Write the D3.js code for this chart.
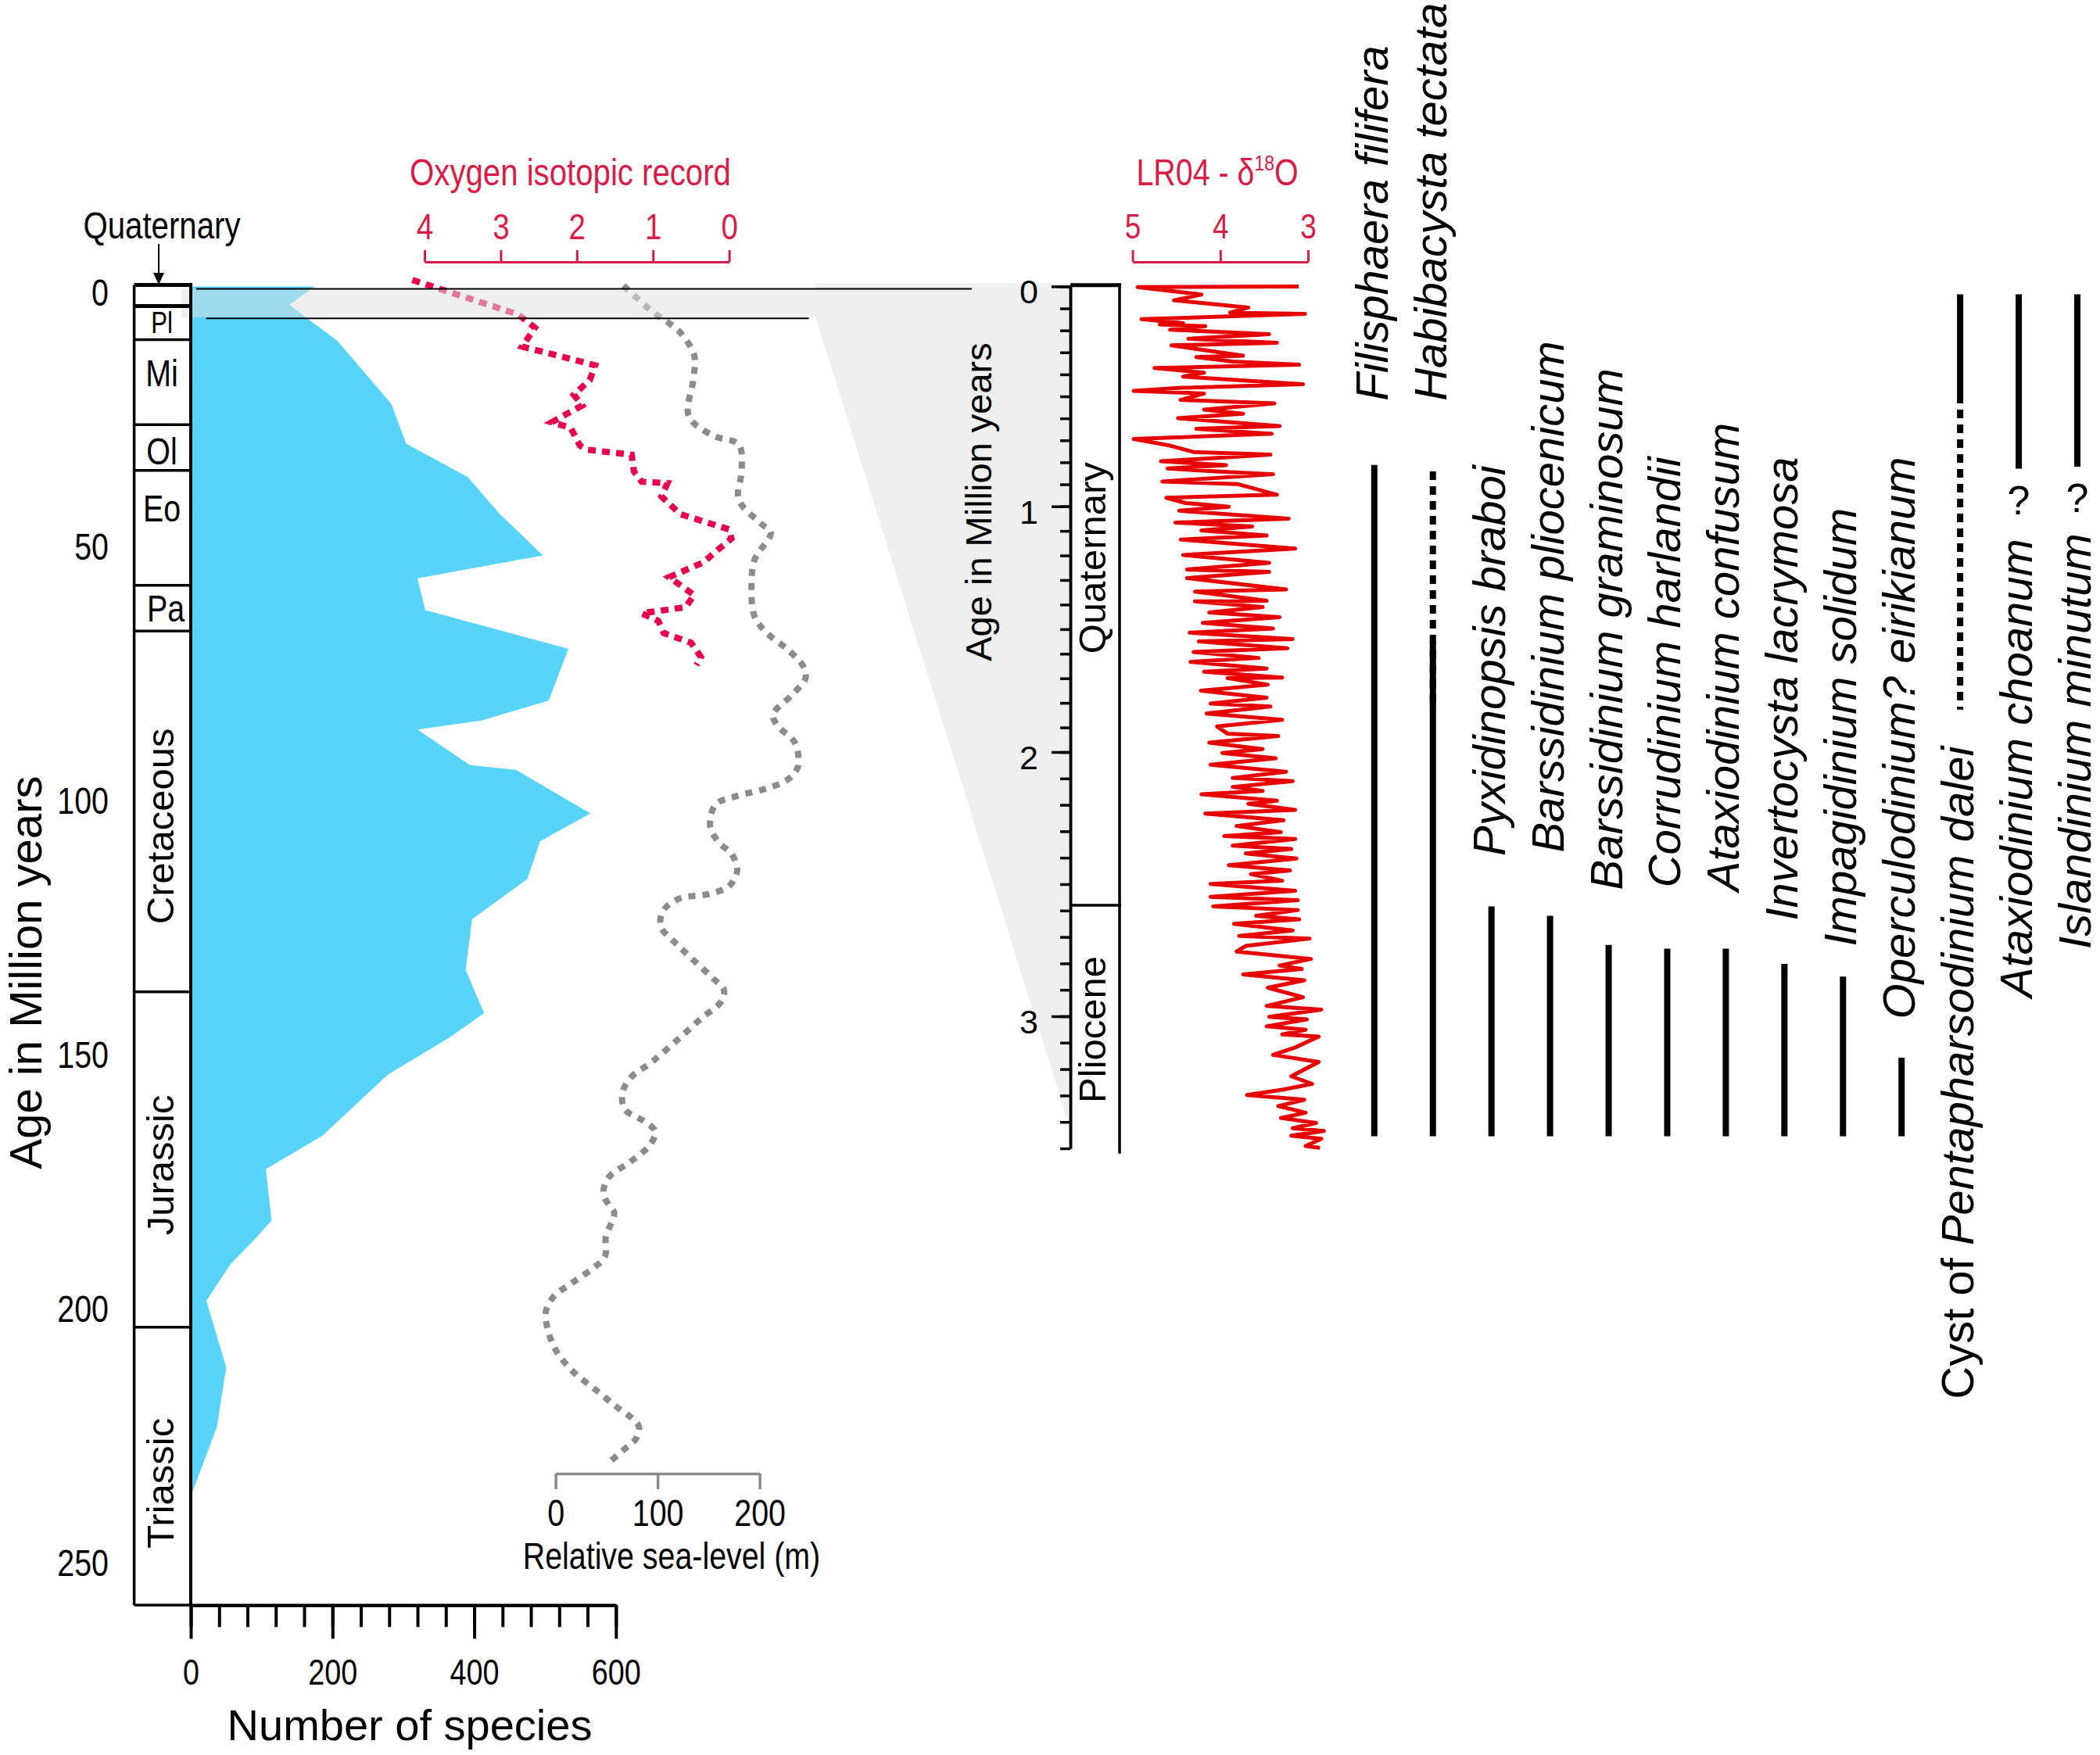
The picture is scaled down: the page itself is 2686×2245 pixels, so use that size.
<!DOCTYPE html>
<html>
<head>
<meta charset="utf-8">
<script src="https://cdn.jsdelivr.net/npm/d3@7"></script>
<style>
  body { margin: 0; background: #fff; }
  svg { display: block; background: #fff; }
  svg text { font-family: "Liberation Sans", Arial, Helvetica, sans-serif; }
</style>
</head>
<body>
<svg id="chart" width="2686" height="2245"></svg>
<script>
// ---------- DATA ----------

// left stratigraphic column (Ma)
const eraNames = ["", "Pl", "Mi", "Ol", "Eo", "Pa", "Cretaceous", "Jurassic", "Triassic"];
const eraBounds = [-1.6, 2.55, 9.15, 25.9, 34.9, 57.5, 66.5, 137.5, 203.5, 258.2];
const eraLabelAge = [null, 5.8, 15.7, 31.0, 42.3, 62.0, 104.9, 171.6, 234.2];
const ageTicks = [0, 50, 100, 150, 200, 250];

// number of species [age Ma, count]
const speciesCount = [
  [-1.3, 175], [2.3, 139], [9.4, 207], [21.8, 283], [29.6, 304], [36.2, 391], [43.3, 435],
  [51.6, 497], [56.1, 320], [62.4, 331], [70.0, 533], [80.2, 505], [84.1, 410], [85.9, 320],
  [92.9, 394], [93.8, 459], [102.4, 564], [107.9, 493], [115.3, 475], [123.2, 397], [133.2, 388],
  [141.7, 414], [146.5, 365], [153.8, 278], [165.8, 186], [172.4, 106], [182.5, 114], [185.8, 93],
  [191.1, 56], [198.3, 22], [211.4, 50], [223.1, 37], [236.8, 0]
];
const speciesTicks = [0, 200, 400, 600];

// oxygen isotopic record [age Ma, permil]
const oxygenRecord = [
  [-2.6, 4.16], [4.2, 2.77], [6.8, 2.55], [10.5, 2.72], [14.2, 1.76], [17.1, 1.83], [20.0, 2.04],
  [22.1, 1.93], [25.4, 2.33], [26.5, 2.08], [30.0, 1.96], [30.8, 1.87], [31.8, 1.28], [35.1, 1.25],
  [37.1, 1.15], [37.4, 0.81], [40.0, 0.89], [43.5, 0.64], [46.5, 0.0], [48.3, -0.03], [50.4, 0.14],
  [53.0, 0.34], [55.9, 0.79], [59.4, 0.46], [61.8, 0.57], [63.0, 1.15], [64.5, 0.93], [66.9, 0.86],
  [68.8, 0.5], [71.6, 0.37], [73.2, 0.43]
];
const oxygenTicks = [4, 3, 2, 1, 0];

// relative sea level [age Ma, m]
const seaLevel = [
  [-1.5, 66.5], [3.5, 94], [7.7, 122], [12.4, 136], [17, 135], [24.2, 130.5], [28, 154], [29.8, 179.5],
  [34.8, 182.5], [40.6, 179.5], [45.4, 201.7], [47.1, 211], [52.5, 195], [57.8, 192], [63.3, 194.5],
  [66.5, 205], [70.4, 229], [73.5, 243], [75.8, 245], [79, 232], [83, 213], [85.3, 218.5], [88.5, 234.6],
  [93.2, 237.5], [95.5, 229], [97.1, 213], [99.1, 175.6], [100.6, 157], [104.9, 151.5], [108, 159.6],
  [110.5, 173], [113.6, 178], [116.7, 170], [118.3, 149], [119.1, 122], [121.4, 106], [124.6, 103],
  [127.7, 116.5], [130.8, 132.7], [134.8, 154], [137.1, 165], [139.5, 162], [142.6, 143.5], [146.5, 122],
  [151.2, 95], [154.4, 73.6], [157.5, 65.4], [160.7, 68.2], [163, 87], [165, 97.6], [167.7, 92.2],
  [170.9, 73.6], [174, 52], [177.1, 46.8], [179.4, 52], [181, 57.5], [185.7, 49.3], [189.6, 48.4],
  [192, 36], [195, 14.5], [197.4, -1.6], [200.5, -9.6], [204.4, -7], [208.3, 1], [212.2, 17],
  [216.1, 41], [219.2, 60], [221.2, 73.6], [223.1, 81.7], [225.4, 79], [227.4, 68.2], [229.7, 54.8]
];
const seaLevelTicks = [0, 100, 200];

// LR04 benthic d18O stack [age Ma, permil]
const lr04 = [
  [0.000,3.107],[0.003,4.943],[0.037,4.215],[0.063,4.527],[0.096,3.680],[0.119,3.888],[0.125,3.033],
  [0.149,4.898],[0.167,4.423],[0.173,4.690],[0.181,4.171],[0.197,4.572],[0.217,3.443],[0.238,4.364],
  [0.256,3.354],[0.268,4.557],[0.315,3.740],[0.321,4.274],[0.342,3.859],[0.356,3.101],[0.371,4.750],
  [0.392,4.185],[0.410,4.423],[0.445,3.057],[0.461,4.438],[0.475,4.988],[0.487,4.185],[0.516,4.453],
  [0.532,3.383],[0.560,4.185],[0.579,3.740],[0.599,4.482],[0.635,3.324],[0.647,4.274],[0.670,3.413],
  [0.694,4.988],[0.724,4.572],[0.753,4.304],[0.765,3.428],[0.795,4.676],[0.813,3.933],[0.828,4.601],
  [0.842,4.007],[0.854,3.398],[0.887,4.661],[0.899,3.799],[0.931,3.502],[0.947,3.354],[0.961,4.616],
  [0.985,4.393],[1.002,3.903],[1.018,4.468],[1.050,3.220],[1.066,4.512],[1.082,3.636],[1.098,4.215],
  [1.119,3.472],[1.135,4.453],[1.172,3.146],[1.198,4.423],[1.230,3.443],[1.257,4.379],[1.267,3.443],
  [1.292,4.379],[1.338,3.250],[1.347,4.289],[1.384,3.472],[1.387,4.289],[1.410,3.517],[1.432,4.126],
  [1.451,3.324],[1.474,4.200],[1.497,3.398],[1.514,4.349],[1.540,3.175],[1.550,4.245],[1.578,3.235],
  [1.593,4.304],[1.617,3.562],[1.633,4.340],[1.660,3.472],[1.673,4.185],[1.697,3.294],[1.699,3.918],
  [1.726,3.458],[1.750,4.221],[1.779,3.472],[1.803,4.111],[1.815,3.428],[1.843,4.156],[1.869,3.294],
  [1.896,4.037],[1.925,3.918],[1.935,3.339],[1.962,4.126],[1.988,3.517],[2.004,3.977],[2.024,3.368],
  [2.048,4.111],[2.075,3.250],[2.098,3.859],[2.110,3.175],[2.132,3.859],[2.147,3.517],[2.160,4.215],
  [2.184,3.354],[2.196,3.680],[2.219,3.146],[2.233,4.171],[2.258,3.279],[2.280,3.814],[2.303,3.309],
  [2.318,3.954],[2.329,3.146],[2.354,3.859],[2.367,3.190],[2.384,3.710],[2.403,3.131],[2.428,3.903],
  [2.448,3.205],[2.462,3.651],[2.487,3.294],[2.499,4.111],[2.525,3.146],[2.548,4.111],[2.561,3.116],
  [2.584,4.081],[2.598,3.116],[2.620,3.591],[2.633,3.101],[2.650,3.844],[2.675,3.175],[2.696,3.784],
  [2.706,2.982],[2.734,3.710],[2.755,3.814],[2.783,2.967],[2.808,3.324],[2.821,3.071],[2.842,3.740],
  [2.864,3.042],[2.892,3.458],[2.928,3.057],[2.961,3.472],[2.975,2.849],[3.002,3.443],[3.012,3.012],
  [3.038,3.472],[3.051,3.027],[3.069,3.294],[3.077,2.878],[3.118,3.146],[3.146,3.398],[3.173,2.878],
  [3.227,3.190],[3.256,2.953],[3.278,3.294],[3.298,3.695],[3.316,3.042],[3.340,3.339],[3.365,3.027],
  [3.385,3.309],[3.404,2.908],[3.424,3.175],[3.434,2.819],[3.452,3.190],[3.464,2.848],[3.491,3.027],
  [3.498,2.863]
];
const lr04Ticks = [5, 4, 3];

// right column (Ma)
const epochNames = ["Quaternary", "Pliocene"];
const epochBounds = [-0.006, 2.58, 3.52];
const epochLabelAge = [1.21, 3.05];
const rightMajorTicks = [0, 1, 2, 3];

// dinocyst ranges (Ma, right-hand age scale)
const taxa = [
  "Filisphaera filifera", "Habibacysta tectata", "Pyxidinopsis braboi", "Barssidinium pliocenicum",
  "Barssidinium graminosum", "Corrudinium harlandii", "Ataxiodinium confusum", "Invertocysta lacrymosa",
  "Impagidinium solidum", "Operculodinium? eirikianum", "Cyst of Pentapharsodinium dalei",
  "Ataxiodinium choanum", "Islandinium minutum"
];
const taxaSolid = [
  [0.812, 3.454], [1.551, 3.454], [2.584, 3.454], [2.620, 3.454], [2.730, 3.454], [2.744, 3.454],
  [2.744, 3.454], [2.802, 3.454], [2.850, 3.454], [3.157, 3.454], [0.036, 0.493], [0.036, 0.829],
  [0.036, 0.820]
];
const taxaDotted = [
  null, [0.841, 1.827], null, null, null, null, null, null, null, null, [0.493, 1.827], null, null
];
const taxaQuery = [false, false, false, false, false, false, false, false, false, false, false, true, true];

// ---------- LAYOUT ----------
const svg = d3.select("#chart");
const NARROW = 0.82;
const FONT = '"Liberation Sans", Arial, Helvetica, sans-serif';
const RED_AXIS = "#d81b47";
const RED_DOTS = "#e8004c";
const LR_RED = "#e60000";

const ageL = d3.scaleLinear().domain([0, 250]).range([375, 2000]);
const countX = d3.scaleLinear().domain([0, 600]).range([244, 787.8]);
const oxyX = d3.scaleLinear().domain([4, 0]).range([543, 932.6]);
const seaX = d3.scaleLinear().domain([0, 200]).range([710.6, 971.6]);
const ageR = d3.scaleLinear().domain([0, 1, 2, 3, 3.5]).range([366.4, 647.7, 962, 1300, 1469]);
const lrX = d3.scaleLinear().domain([5, 3]).range([1448.6, 1673]);
const taxX = d3.scalePoint().domain(taxa).range([1757.8, 2657]);

const colL = 171.6;
const colR = countX(0);
const axisRX = 1369;
const colRR = 1432;
const plain = d => String(d);

function addText(parent, str, x, y, o = {}) {
  let tr = `translate(${x},${y})`;
  if (o.rotate) tr += ` rotate(${o.rotate})`;
  if (o.narrow) tr += ` scale(${NARROW},1)`;
  return parent.append("text")
    .attr("transform", tr)
    .attr("text-anchor", o.anchor || "middle")
    .attr("font-size", o.size || 48)
    .attr("fill", o.fill || "#000")
    .style("font-style", o.italic ? "italic" : "normal")
    .text(str);
}

function styleAxis(g, size, width, narrow) {
  g.attr("font-family", FONT).attr("font-size", size);
  g.selectAll("line").attr("stroke-width", width);
  g.select(".domain").attr("stroke-width", width);
  if (narrow) g.selectAll("text").attr("transform", `scale(${NARROW},1)`);
}

// ---------- LEFT PANEL ----------

// species richness area
const area = d3.area()
  .x0(countX(0))
  .x1(d => countX(d[1]))
  .y(d => ageL(d[0]));
svg.append("path").datum(speciesCount)
  .attr("d", area)
  .attr("fill", "#58d4fa");

// sea level curve
const seaLine = d3.line()
  .x(d => seaX(d[1]))
  .y(d => ageL(d[0]))
  .curve(d3.curveCatmullRom);
svg.append("path").datum(seaLevel)
  .attr("d", seaLine)
  .attr("fill", "none")
  .attr("stroke", "#8c8c8c")
  .attr("stroke-width", 8)
  .attr("stroke-dasharray", "9,9");

// oxygen isotope curve
const oxyLine = d3.line()
  .x(d => oxyX(d[1]))
  .y(d => ageL(d[0]));
svg.append("path").datum(oxygenRecord)
  .attr("d", oxyLine)
  .attr("fill", "none")
  .attr("stroke", RED_DOTS)
  .attr("stroke-width", 8)
  .attr("stroke-dasharray", "10,8");

// zoom band joining the two panels
const bandTop = ageL(-0.86);
const bandBot = ageL(4.74);
const band = [
  [colR - 12, bandTop], [1043, bandTop], [1043, ageR(-0.014)], [axisRX, ageR(-0.014)],
  [axisRX - 3, ageR(3.4)], [1043, bandBot], [colR - 12, bandBot]
];
svg.append("path")
  .attr("d", d3.line()(band) + "Z")
  .attr("fill", "#e1e1e1")
  .attr("fill-opacity", 0.53);

svg.append("line")
  .attr("x1", 251).attr("x2", 1243).attr("y1", bandTop).attr("y2", bandTop)
  .attr("stroke", "#000").attr("stroke-width", 2);
svg.append("line")
  .attr("x1", 263.6).attr("x2", 1034.6).attr("y1", ageL(4.95)).attr("y2", ageL(4.95))
  .attr("stroke", "#000").attr("stroke-width", 2);

// stratigraphic column
const col = svg.append("g");
col.selectAll("line.era")
  .data(eraBounds)
  .join("line")
  .attr("class", "era")
  .attr("x1", colL).attr("x2", colR + 2)
  .attr("y1", d => ageL(d)).attr("y2", d => ageL(d))
  .attr("stroke", "#000")
  .attr("stroke-width", (d, i) => i < 2 ? 5 : 3.5);
col.append("line")
  .attr("x1", colL).attr("x2", colL)
  .attr("y1", ageL(eraBounds[0])).attr("y2", ageL(eraBounds[eraBounds.length - 1]))
  .attr("stroke", "#000").attr("stroke-width", 3.5);
col.append("line")
  .attr("x1", colR).attr("x2", colR)
  .attr("y1", ageL(eraBounds[0]) - 2).attr("y2", ageL(eraBounds[eraBounds.length - 1]) + 2)
  .attr("stroke", "#000").attr("stroke-width", 4);

eraNames.forEach((name, i) => {
  if (!name) return;
  const y = ageL(eraLabelAge[i]);
  if (name.length > 3) {
    addText(col, name, 222, y, { size: 49, rotate: -90 });
  } else {
    const size = name === "Pl" ? 38 : 48;
    addText(col, name, name === "Pa" ? 212 : 207, y + 0.36 * size, { size: size, narrow: true });
  }
});

// "Quaternary" pointer
addText(svg, "Quaternary", 207, 305, { size: 49, narrow: true });
svg.append("line")
  .attr("x1", 203).attr("x2", 203).attr("y1", 312).attr("y2", 352)
  .attr("stroke", "#000").attr("stroke-width", 2);
svg.append("path")
  .attr("d", "M196,349 L210,349 L203,364 Z")
  .attr("fill", "#000");

// age labels
const yAxisL = svg.append("g")
  .attr("transform", "translate(139,0)")
  .call(d3.axisLeft(ageL).tickValues(ageTicks).tickSize(0).tickPadding(0).tickFormat(plain));
yAxisL.select(".domain").remove();
styleAxis(yAxisL, 48, 0, true);

addText(svg, "Age in Million years", 53, 1244, { size: 58, rotate: -90 });

// number of species axis
const xAxisY = ageL(eraBounds[eraBounds.length - 1]);
const xMinor = svg.append("g")
  .attr("transform", `translate(0,${xAxisY})`)
  .call(d3.axisBottom(countX).tickValues(d3.range(0, 601, 40)).tickSize(28).tickSizeOuter(0).tickFormat(""));
styleAxis(xMinor, 46, 4, false);
const xMajor = svg.append("g")
  .attr("transform", `translate(0,${xAxisY})`)
  .call(d3.axisBottom(countX).tickValues(speciesTicks).tickSize(43).tickSizeOuter(0).tickPadding(26).tickFormat(plain));
styleAxis(xMajor, 46, 4, true);
addText(svg, "Number of species", 524, 2226, { size: 56 });

// oxygen axis
const oxyAxis = svg.append("g")
  .attr("transform", "translate(0,335)")
  .attr("color", RED_AXIS)
  .call(d3.axisTop(oxyX).tickValues(oxygenTicks).tickSize(15).tickSizeOuter(0).tickPadding(14).tickFormat(plain));
styleAxis(oxyAxis, 47, 3, true);
addText(svg, "Oxygen isotopic record", 729.5, 237, { size: 49, narrow: true, fill: RED_AXIS });

// sea level axis
const seaAxis = svg.append("g")
  .attr("transform", "translate(0,1885)")
  .attr("color", "#8a8a8a")
  .call(d3.axisBottom(seaX).tickValues(seaLevelTicks).tickSize(20).tickSizeOuter(0).tickPadding(13).tickFormat(plain));
styleAxis(seaAxis, 48, 3.5, true);
seaAxis.selectAll("text").attr("fill", "#000");
addText(svg, "Relative sea-level (m)", 859, 2007, { size: 48, narrow: true });

// ---------- RIGHT PANEL ----------

// LR04 curve
const lrLine = d3.line()
  .x(d => lrX(d[1]))
  .y(d => ageR(d[0]));
svg.append("path").datum(lr04)
  .attr("d", lrLine)
  .attr("fill", "none")
  .attr("stroke", LR_RED)
  .attr("stroke-width", 5)
  .attr("stroke-linejoin", "round");

const lrAxis = svg.append("g")
  .attr("transform", "translate(0,335)")
  .attr("color", RED_AXIS)
  .call(d3.axisTop(lrX).tickValues(lr04Ticks).tickSize(15).tickSizeOuter(0).tickPadding(15).tickFormat(plain));
styleAxis(lrAxis, 45, 3, true);

const lrTitle = addText(svg, "", 1557, 237, { size: 48, narrow: true, fill: RED_AXIS });
lrTitle.append("tspan").text("LR04 - δ");
lrTitle.append("tspan").attr("font-size", 28).attr("dy", -19).text("18");
lrTitle.append("tspan").attr("dy", 19).text("O");

// right age axis
const rMinor = svg.append("g")
  .attr("transform", `translate(${axisRX},0)`)
  .call(d3.axisLeft(ageR).tickValues(d3.range(0, 3.51, 0.1)).tickSize(13).tickSizeOuter(0).tickFormat(""));
styleAxis(rMinor, 43, 3.5, false);
const rMajor = svg.append("g")
  .attr("transform", `translate(${axisRX},0)`)
  .call(d3.axisLeft(ageR).tickValues(rightMajorTicks).tickSize(24).tickSizeOuter(0).tickPadding(19).tickFormat(plain));
styleAxis(rMajor, 43, 3.5, false);
rMajor.selectAll("text").attr("text-anchor", "middle").attr("x", -53).attr("dy", "0.5em");

addText(svg, "Age in Million years", 1268, 642, { size: 47, rotate: -90 });

// epoch column
const ep = svg.append("g");
ep.selectAll("line.ep")
  .data(epochBounds.slice(0, 2))
  .join("line")
  .attr("class", "ep")
  .attr("x1", axisRX).attr("x2", colRR + 2)
  .attr("y1", d => ageR(d)).attr("y2", d => ageR(d))
  .attr("stroke", "#000")
  .attr("stroke-width", (d, i) => i === 0 ? 5 : 3.5);
ep.append("line")
  .attr("x1", colRR).attr("x2", colRR)
  .attr("y1", ageR(epochBounds[0]) - 2).attr("y2", ageR(epochBounds[2]))
  .attr("stroke", "#000").attr("stroke-width", 3.5);
epochNames.forEach((name, i) => {
  addText(ep, name, 1414, ageR(epochLabelAge[i]), { size: 49, rotate: -90 });
});

// ---------- DINOCYST RANGES ----------
const labelBottom = [512.8, 512.8, 1095, 1090.6, 1138.5, 1135.5, 1140.3, 1177.5, 1210.5, 1303.4, 1789.7, 1276, 1214];

const sg = svg.append("g");
sg.selectAll("line.solid")
  .data(taxa)
  .join("line")
  .attr("class", "solid")
  .attr("x1", d => taxX(d)).attr("x2", d => taxX(d))
  .attr("y1", (d, i) => ageR(taxaSolid[i][0]))
  .attr("y2", (d, i) => ageR(taxaSolid[i][1]))
  .attr("stroke", "#000")
  .attr("stroke-width", 8);

sg.selectAll("line.dotted")
  .data(taxa.map((d, i) => ({ name: d, r: taxaDotted[i] })).filter(d => d.r))
  .join("line")
  .attr("class", "dotted")
  .attr("x1", d => taxX(d.name)).attr("x2", d => taxX(d.name))
  .attr("y1", d => ageR(d.r[0]))
  .attr("y2", d => ageR(d.r[1]))
  .attr("stroke", "#000")
  .attr("stroke-width", 8)
  .attr("stroke-dasharray", "11,8");

taxa.forEach((name, i) => {
  const x = taxX(name) + 17;
  const t = addText(sg, "", x, labelBottom[i], { size: 58, rotate: -90, anchor: "start" });
  if (name.startsWith("Cyst of ")) {
    t.append("tspan").style("font-style", "normal").text("Cyst of ");
    t.append("tspan").style("font-style", "italic").text(name.slice(8));
  } else {
    t.style("font-style", "italic").text(name);
  }
  if (taxaQuery[i]) {
    addText(sg, "?", taxX(name), ageR(taxaSolid[i][1]) + 58, { size: 52 });
  }
});
</script>
</body>
</html>
